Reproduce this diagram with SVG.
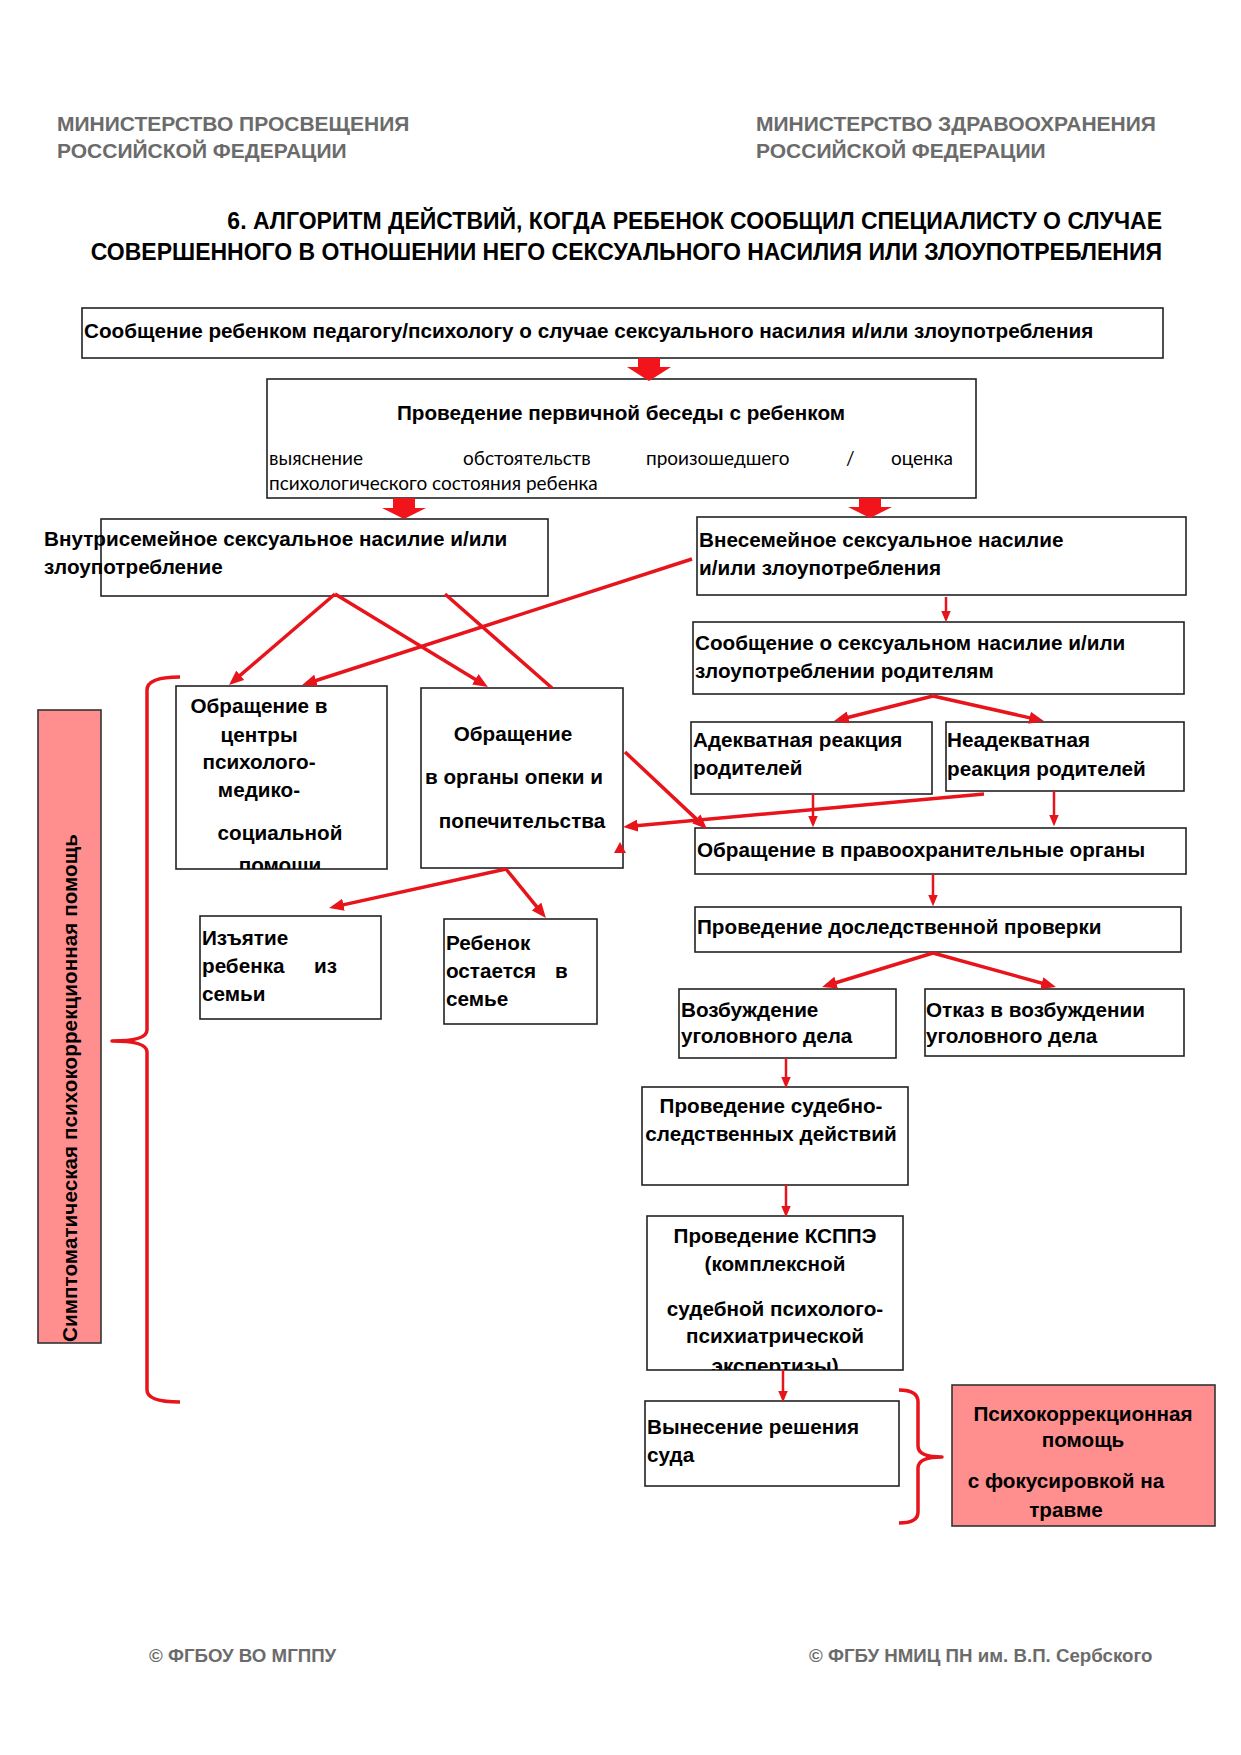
<svg xmlns="http://www.w3.org/2000/svg" width="1241" height="1755" viewBox="0 0 1241 1755">
<style>
.box{fill:#fff;stroke:#222;stroke-width:1.6}
.pink{fill:#ff8f8f;stroke:#333;stroke-width:1.6}
.t{font-family:"Liberation Sans",Arial,sans-serif;font-weight:bold;font-size:20.7px;fill:#000}
.m{text-anchor:middle}
.n{font-family:Lato,"Open Sans",sans-serif;font-size:19px;fill:#000}
.hd{font-family:"Liberation Sans",Arial,sans-serif;font-weight:bold;font-size:21px;fill:#6b6b6b}
.ft{font-family:"Liberation Sans",Arial,sans-serif;font-weight:bold;font-size:18.7px;fill:#6b6b6b}
.ti{font-family:"Liberation Sans",Arial,sans-serif;font-weight:bold;font-size:23px;fill:#000;text-anchor:end}
.c{stroke:#e8141b;stroke-width:3.5;fill:none}
.cs{stroke:#e8141b;stroke-width:2.5;fill:none}
.br{stroke:#e8141b;stroke-width:3.5;fill:none;stroke-linejoin:round}
.ba{fill:#f2141b}
</style>
<defs>
<marker id="ah" viewBox="0 0 12 10" refX="8" refY="5" markerWidth="4.2" markerHeight="3.5" orient="auto">
<path d="M0,0 L12,5 L0,10 z" fill="#e8141b"/>
</marker>
<marker id="ahs" viewBox="0 0 12 10" refX="8" refY="5" markerWidth="4.6" markerHeight="4.2" orient="auto">
<path d="M0,0 L12,5 L0,10 z" fill="#e8141b"/>
</marker>
<clipPath id="clipA"><rect x="176" y="686" width="211" height="183"/></clipPath>
<clipPath id="clipB"><rect x="647" y="1216" width="256" height="154"/></clipPath>
</defs>
<rect width="1241" height="1755" fill="#fff"/>

<g id="header">
<text class="hd" x="57" y="131">МИНИСТЕРСТВО ПРОСВЕЩЕНИЯ</text>
<text class="hd" x="57" y="158">РОССИЙСКОЙ ФЕДЕРАЦИИ</text>
<text class="hd" x="756" y="131">МИНИСТЕРСТВО ЗДРАВООХРАНЕНИЯ</text>
<text class="hd" x="756" y="158">РОССИЙСКОЙ ФЕДЕРАЦИИ</text>
<text class="ti" x="1162" y="229">6. АЛГОРИТМ ДЕЙСТВИЙ, КОГДА РЕБЕНОК СООБЩИЛ СПЕЦИАЛИСТУ О СЛУЧАЕ</text>
<text class="ti" x="1162" y="260">СОВЕРШЕННОГО В ОТНОШЕНИИ НЕГО СЕКСУАЛЬНОГО НАСИЛИЯ ИЛИ ЗЛОУПОТРЕБЛЕНИЯ</text>
</g>

<g id="n-report">
<rect class="box" x="82" y="308" width="1081" height="50"/>
<text class="t" x="84" y="338">Сообщение ребенком педагогу/психологу о случае сексуального насилия и/или злоупотребления</text>
</g>

<g id="n-interview">
<rect class="box" x="267" y="379" width="709" height="119"/>
<text class="t m" x="621" y="420">Проведение первичной беседы с ребенком</text>
<text class="n" x="269" y="465">выяснение</text>
<text class="n" x="463" y="465">обстоятельств</text>
<text class="n" x="646" y="465">произошедшего</text>
<text class="n" x="846" y="465">/</text>
<text class="n" x="953" y="465" text-anchor="end">оценка</text>
<text class="n" x="269" y="490">психологического состояния ребенка</text>
</g>

<g id="n-intra">
<rect class="box" x="101" y="519" width="447" height="77"/>
<text class="t" x="44" y="546">Внутрисемейное сексуальное насилие и/или</text>
<text class="t" x="44" y="574">злоупотребление</text>
</g>

<g id="n-extra">
<rect class="box" x="697" y="517" width="489" height="78"/>
<text class="t" x="699" y="547">Внесемейное сексуальное насилие</text>
<text class="t" x="699" y="575">и/или злоупотребления</text>
</g>

<g id="n-parents">
<rect class="box" x="693" y="622" width="491" height="72"/>
<text class="t" x="695" y="650">Сообщение о сексуальном насилие и/или</text>
<text class="t" x="695" y="678">злоупотреблении родителям</text>
</g>

<g id="n-adequate">
<rect class="box" x="691" y="722" width="241" height="72"/>
<text class="t" x="693" y="747">Адекватная реакция</text>
<text class="t" x="693" y="775">родителей</text>
</g>

<g id="n-inadequate">
<rect class="box" x="946" y="722" width="238" height="69"/>
<text class="t" x="947" y="747">Неадекватная</text>
<text class="t" x="947" y="776">реакция родителей</text>
</g>

<g id="n-police">
<rect class="box" x="695" y="828" width="491" height="46"/>
<text class="t" x="697" y="857">Обращение в правоохранительные органы</text>
</g>

<g id="n-check">
<rect class="box" x="695" y="907" width="486" height="45"/>
<text class="t" x="697" y="934">Проведение доследственной проверки</text>
</g>

<g id="n-case">
<rect class="box" x="679" y="989" width="217" height="69"/>
<text class="t" x="681" y="1017">Возбуждение</text>
<text class="t" x="681" y="1043">уголовного дела</text>
</g>

<g id="n-refuse">
<rect class="box" x="925" y="989" width="259" height="67"/>
<text class="t" x="926" y="1017">Отказ в возбуждении</text>
<text class="t" x="926" y="1043">уголовного дела</text>
</g>

<g id="n-investigation">
<rect class="box" x="642" y="1087" width="266" height="98"/>
<text class="t m" x="771" y="1113">Проведение судебно-</text>
<text class="t m" x="771" y="1141">следственных действий</text>
</g>

<g id="n-ksppe">
<rect class="box" x="647" y="1216" width="256" height="154"/>
<g clip-path="url(#clipB)">
<text class="t m" x="775" y="1243">Проведение КСППЭ</text>
<text class="t m" x="775" y="1271">(комплексной</text>
<text class="t m" x="775" y="1316">судебной психолого-</text>
<text class="t m" x="775" y="1343">психиатрической</text>
<text class="t m" x="775" y="1373">экспертизы)</text>
</g>
</g>

<g id="n-court">
<rect class="box" x="645" y="1401" width="254" height="85"/>
<text class="t" x="647" y="1434">Вынесение решения</text>
<text class="t" x="647" y="1462">суда</text>
</g>

<g id="n-trauma">
<rect class="pink" x="952" y="1385" width="263" height="141"/>
<text class="t m" x="1083" y="1421">Психокоррекционная</text>
<text class="t m" x="1083" y="1447">помощь</text>
<text class="t m" x="1066" y="1488">с фокусировкой на</text>
<text class="t m" x="1066" y="1517">травме</text>
</g>

<g id="n-centers">
<rect class="box" x="176" y="686" width="211" height="183"/>
<g clip-path="url(#clipA)">
<text class="t m" x="259" y="713">Обращение в</text>
<text class="t m" x="259" y="742">центры</text>
<text class="t m" x="259" y="769">психолого-</text>
<text class="t m" x="259" y="797">медико-</text>
<text class="t m" x="280" y="840">социальной</text>
<text class="t m" x="280" y="872">помощи</text>
</g>
</g>

<g id="n-guardianship">
<rect class="box" x="421" y="688" width="202" height="180"/>
<text class="t m" x="513" y="741">Обращение</text>
<text class="t m" x="514" y="784">в органы опеки и</text>
<text class="t m" x="522" y="828">попечительства</text>
</g>

<g id="n-removal">
<rect class="box" x="200" y="916" width="181" height="103"/>
<text class="t" x="202" y="945">Изъятие</text>
<text class="t" x="202" y="973">ребенка</text>
<text class="t" x="314" y="973">из</text>
<text class="t" x="202" y="1001">семьи</text>
</g>

<g id="n-stays">
<rect class="box" x="444" y="919" width="153" height="105"/>
<text class="t" x="446" y="950">Ребенок</text>
<text class="t" x="446" y="978">остается</text>
<text class="t" x="555" y="978">в</text>
<text class="t" x="446" y="1006">семье</text>
</g>

<g id="n-symptomatic">
<rect class="pink" x="38" y="710" width="63" height="633"/>
<text class="t" transform="translate(77,1342) rotate(-90)" x="0" y="0" textLength="508">Симптоматическая психокоррекционная помощь</text>
</g>

<g id="connectors">
<polygon class="ba" points="638,358 660,358 660,367 671,367 649,381 627,367 638,367"/>
<polygon class="ba" points="393,498 415,498 415,508 426,508 404,519 382,508 393,508"/>
<polygon class="ba" points="859,498 881,498 881,507 892,507 870,518 848,507 859,507"/>
<line class="c" x1="335" y1="594" x2="232.8" y2="681.7" marker-end="url(#ah)"/>
<line class="c" x1="335" y1="594" x2="483.7" y2="684.4" marker-end="url(#ah)"/>
<line class="c" x1="445" y1="594" x2="552" y2="688"/>
<line class="c" x1="692" y1="559" x2="306.8" y2="683.5" marker-end="url(#ah)"/>
<line class="cs" x1="946" y1="597" x2="946" y2="618.5" marker-end="url(#ahs)"/>
<line class="c" x1="933" y1="696" x2="838.8" y2="719.8" marker-end="url(#ah)"/>
<line class="c" x1="933" y1="696" x2="1039.1" y2="719.9" marker-end="url(#ah)"/>
<line class="cs" x1="813" y1="794" x2="813" y2="823.5" marker-end="url(#ahs)"/>
<line class="cs" x1="1054" y1="791" x2="1054" y2="822.5" marker-end="url(#ahs)"/>
<line class="c" x1="984" y1="794" x2="628" y2="826.5" marker-end="url(#ah)"/>
<line class="c" x1="625" y1="752" x2="703.4" y2="825.6" marker-end="url(#ah)"/>
<polygon points="620,842 626,853 614,853" fill="#e8141b"/>
<line class="cs" x1="933" y1="874" x2="933" y2="902.5" marker-end="url(#ahs)"/>
<line class="c" x1="933" y1="953" x2="826.8" y2="985.5" marker-end="url(#ah)"/>
<line class="c" x1="933" y1="953" x2="1051.2" y2="985.7" marker-end="url(#ah)"/>
<line class="cs" x1="786" y1="1058" x2="786" y2="1084.5" marker-end="url(#ahs)"/>
<line class="cs" x1="786" y1="1185" x2="786" y2="1213.5" marker-end="url(#ahs)"/>
<line class="cs" x1="783" y1="1370" x2="783" y2="1398.5" marker-end="url(#ahs)"/>
<line class="c" x1="506" y1="869" x2="333.9" y2="906.9" marker-end="url(#ah)"/>
<line class="c" x1="506" y1="869" x2="542.8" y2="914.1" marker-end="url(#ah)"/>
<path class="br" d="M180,677 Q147,677 147,690 L147,1030 Q147,1041 112,1041 Q147,1041 147,1052 L147,1390 Q147,1402 180,1402"/>
<path class="br" d="M899,1390 Q918,1390 918,1402 L918,1446 Q918,1457 942,1457 Q918,1457 918,1468 L918,1512 Q918,1523 899,1523"/>
</g>

<g id="footer">
<text class="ft" x="149" y="1662">© ФГБОУ ВО МГППУ</text>
<text class="ft" x="809" y="1662">© ФГБУ НМИЦ ПН им. В.П. Сербского</text>
</g>
</svg>
